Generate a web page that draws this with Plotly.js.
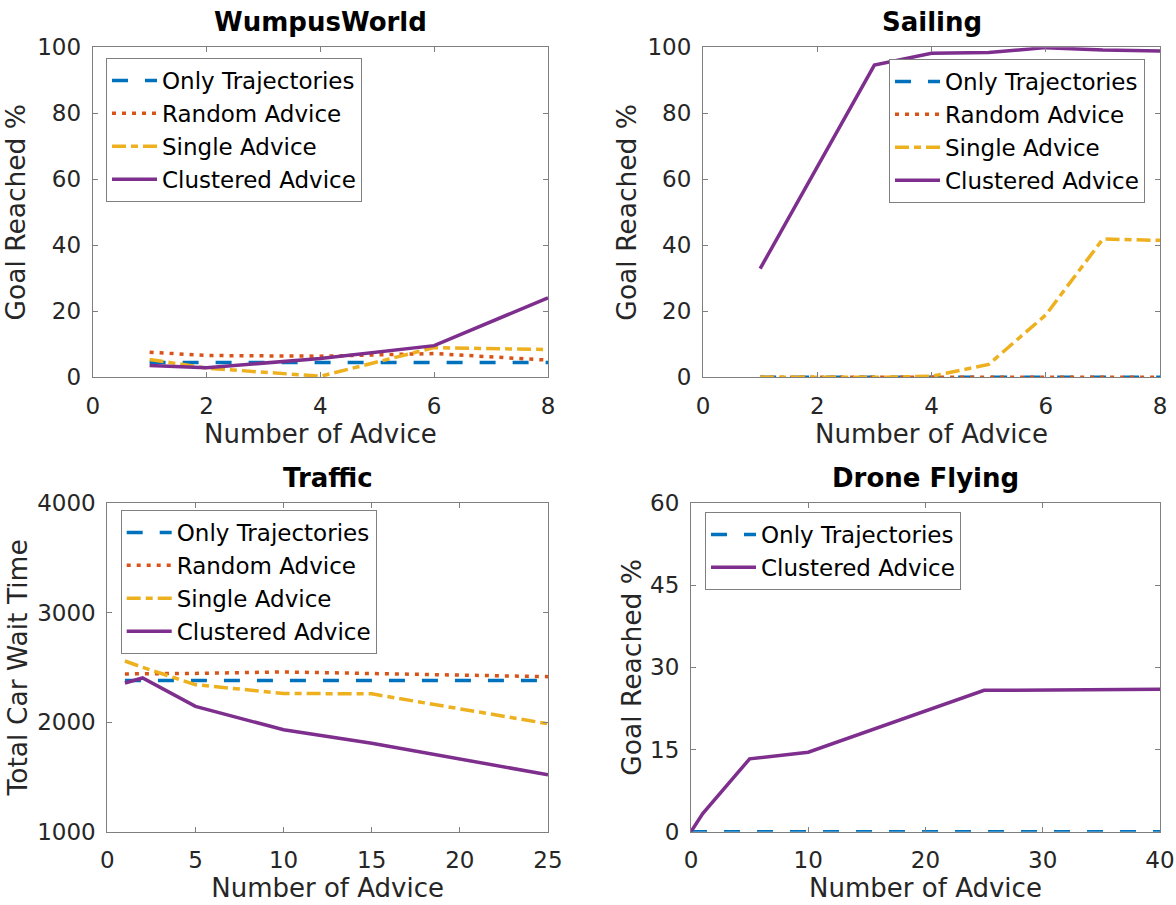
<!DOCTYPE html>
<html>
<head>
<meta charset="utf-8">
<script src="https://cdn.plot.ly/plotly-3.0.1.min.js"></script>
<style>html,body{margin:0;padding:0;background:#fff;}#chart{width:1176px;height:905px;}</style>
</head>
<body>
<div id="chart"></div>
<script>
// ---------------- DATA ----------------
const seriesNames = ["Only Trajectories", "Random Advice", "Single Advice", "Clustered Advice"];

const wumpusX = [1, 2, 4, 6, 8];
const wumpusOnly = [4.5, 4.5, 4.5, 4.5, 4.5];
const wumpusRandom = [7.6, 6.6, 6.4, 7.2, 5.2];
const wumpusSingle = [5.4, 2.8, 0.3, 9.0, 8.4];
const wumpusClustered = [3.6, 2.9, 5.7, 9.6, 24.1];

const sailingX = [1, 3, 4, 5, 6, 7, 8];
const sailingOnly = [0, 0, 0, 0, 0, 0, 0];
const sailingRandom = [0, 0, 0, 0, 0, 0, 0];
const sailingSingle = [0, 0, 0.3, 3.9, 18.9, 41.9, 41.5];
const sailingClustered = [32.9, 94.6, 98.2, 98.4, 99.9, 99.2, 98.9];

const trafficX = [1, 2, 5, 10, 15, 20, 25];
const trafficOnly = [2380, 2380, 2380, 2380, 2380, 2380, 2380];
const trafficRandom = [2440, 2440, 2445, 2458, 2445, 2430, 2415];
const trafficSingle = [2558, 2500, 2342, 2262, 2258, 2120, 1985];
const trafficClustered = [2357, 2403, 2144, 1930, 1808, 1661, 1519];

const droneX = [0, 1, 5, 10, 25, 40];
const droneOnly = [0, 0, 0, 0, 0, 0];
const droneClustered = [0, 3.3, 13.3, 14.5, 25.8, 26.0];

const titles = ["WumpusWorld", "Sailing", "Traffic", "Drone Flying"];
const xLabel = "Number of Advice";
const yLabels = ["Goal Reached %", "Goal Reached %", "Total Car Wait Time", "Goal Reached %"];

const ticks = {
  x1: [0, 2, 4, 6, 8], y1: [0, 20, 40, 60, 80, 100],
  x2: [0, 2, 4, 6, 8], y2: [0, 20, 40, 60, 80, 100],
  x3: [0, 5, 10, 15, 20, 25], y3: [1000, 2000, 3000, 4000],
  x4: [0, 10, 20, 30, 40], y4: [0, 15, 30, 45, 60]
};

// ---------------- STYLE ----------------
const colors = ["#0072BD", "#D95319", "#EDB120", "#7E2F8E"];
const dashes = ["16px,17px", "4px,6px", "14px,5px,7px,5px", "solid"];
const LW = 3.5;
const FONT = "'DejaVu Sans', 'Liberation Sans', Arial, sans-serif";

const W = 1176, H = 905;
const L = 92, R = 1160, T = 47, B = 832;
const fx = px => (px - L) / (R - L);
const fy = py => (B - py) / (B - T);

function trace(x, y, i, ax, leg) {
  return {
    x: x, y: y, type: "scatter", mode: "lines", name: seriesNames[i],
    xaxis: "x" + ax, yaxis: "y" + ax, legend: leg,
    line: {color: colors[i], width: LW, dash: dashes[i]}
  };
}

const data = [
  trace(wumpusX, wumpusOnly, 0, "", "legend"),
  trace(wumpusX, wumpusRandom, 1, "", "legend"),
  trace(wumpusX, wumpusSingle, 2, "", "legend"),
  trace(wumpusX, wumpusClustered, 3, "", "legend"),
  trace(sailingX, sailingOnly, 0, "2", "legend2"),
  trace(sailingX, sailingRandom, 1, "2", "legend2"),
  trace(sailingX, sailingSingle, 2, "2", "legend2"),
  trace(sailingX, sailingClustered, 3, "2", "legend2"),
  trace(trafficX, trafficOnly, 0, "3", "legend3"),
  trace(trafficX, trafficRandom, 1, "3", "legend3"),
  trace(trafficX, trafficSingle, 2, "3", "legend3"),
  trace(trafficX, trafficClustered, 3, "3", "legend3"),
  trace(droneX, droneOnly, 0, "4", "legend4"),
  trace(droneX, droneClustered, 3, "4", "legend4")
];

const AXC = "#7f7f7f";
function axis(domain, tv, title, isX, anchor, standoff) {
  return {
    domain: domain, range: [tv[0], tv[tv.length - 1]], tickvals: tv,
    ticktext: tv.map(String), showline: true, linecolor: AXC, linewidth: 1,
    mirror: "ticks", ticks: "inside", ticklen: 5, tickcolor: AXC, tickwidth: 1,
    showgrid: false, zeroline: false, anchor: anchor,
    tickfont: {family: FONT, size: 23, color: "#262626"},
    ticklabelstandoff: isX ? 8 : 6,
    title: {text: title, font: {family: FONT, size: isX ? 26 : 26.5, color: "#262626"}, standoff: standoff}
  };
}

const topY = [fy(377.3), fy(47.3)];
const botY = [fy(831.7), fy(503)];

function legend(x, y, xa) {
  return {
    x: x, y: y, xanchor: xa, yanchor: "top", xref: "paper", yref: "paper",
    bgcolor: "#ffffff", bordercolor: AXC, borderwidth: 1,
    font: {family: FONT, size: 23, color: "#000"}, itemwidth: 45, tracegroupgap: 0
  };
}

const layout = {
  width: W, height: H, paper_bgcolor: "#fff", plot_bgcolor: "#fff",
  margin: {l: L, r: W - R, t: T, b: H - B},
  font: {family: FONT},
  xaxis: axis([fx(92.7), fx(548)], ticks.x1, xLabel, true, "y", 4),
  yaxis: axis(topY, ticks.y1, yLabels[0], false, "x", 3),
  xaxis2: axis([fx(703), fx(1160)], ticks.x2, xLabel, true, "y2", 4),
  yaxis2: axis(topY, ticks.y2, yLabels[1], false, "x2", 3),
  xaxis3: axis([fx(107.3), fx(548)], ticks.x3, xLabel, true, "y3", 4),
  yaxis3: axis(botY, ticks.y3, yLabels[2], false, "x3", 1),
  xaxis4: axis([fx(691), fx(1160)], ticks.x4, xLabel, true, "y4", 4),
  yaxis4: axis(botY, ticks.y4, yLabels[3], false, "x4", 0),
  showlegend: true,
  legend: legend(fx(106), fy(58), "left"),
  legend2: legend(fx(1145), fy(59), "right"),
  legend3: legend(fx(120.7), fy(510), "left"),
  legend4: legend(fx(705), fy(512), "left"),
  annotations: [
    {text: "<b>" + titles[0] + "</b>", x: fx((92.7 + 548) / 2), y: fy(22)},
    {text: "<b>" + titles[1] + "</b>", x: fx((703 + 1160) / 2), y: fy(22)},
    {text: "<b>" + titles[2] + "</b>", x: fx((107.3 + 548) / 2), y: fy(478)},
    {text: "<b>" + titles[3] + "</b>", x: fx((691 + 1160) / 2), y: fy(478)}
  ].map(a => Object.assign(a, {xref: "paper", yref: "paper", showarrow: false,
    xanchor: "center", yanchor: "middle", font: {family: FONT, size: 26, color: "#000"}}))
};

Plotly.newPlot("chart", data, layout, {displayModeBar: false, staticPlot: true});
</script>
</body>
</html>
